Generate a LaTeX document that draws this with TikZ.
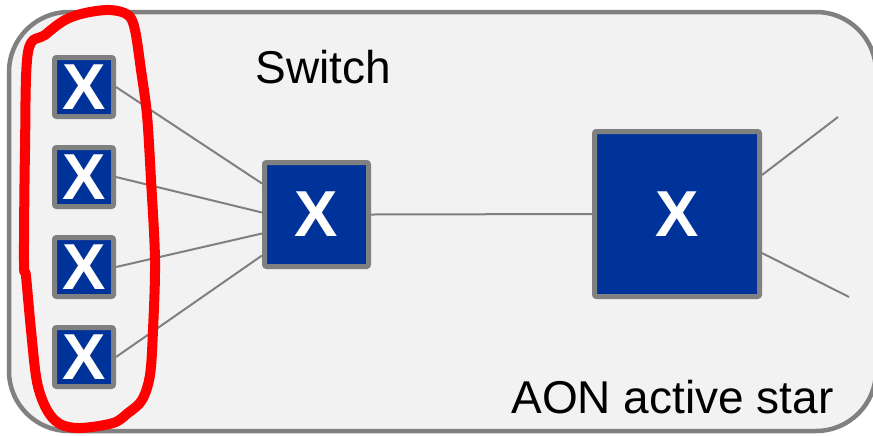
\documentclass[tikz,border=0pt]{standalone}
\usepackage{fontspec}
\setmainfont{Liberation Sans}
\definecolor{boxblue}{RGB}{0,51,153}
\definecolor{panel}{RGB}{242,242,242}
\definecolor{edgegray}{RGB}{128,128,128}
\definecolor{loopred}{RGB}{255,0,0}
\begin{document}
\begin{tikzpicture}[x=0.5pt,y=-0.5pt,
  swbox/.style={draw=edgegray,line width=2.5pt,fill=boxblue,text=white,
    font=\fontsize{32.5}{32.5}\selectfont\bfseries,inner sep=0pt,rounded corners=1pt},
  smallbox/.style={swbox,minimum size=29.5pt},
  midbox/.style={swbox,minimum size=52pt},
  bigbox/.style={swbox,minimum size=82.5pt},
  link/.style={draw=edgegray,line width=1pt},
  lbl/.style={font=\fontsize{23}{27}\selectfont,text=black,inner sep=0pt},
  redloop/.style={draw=loopred,line width=5pt,line join=round,line cap=round}]
\useasboundingbox (0,0) rectangle (873,435);
\clip (0,0) rectangle (873,435);
% container
\draw[draw=edgegray,fill=panel,line width=2.25pt,rounded corners=30pt] (9,12) rectangle (876,431);
% switches
\node[smallbox] (s1) at (84,87) {X};
\node[smallbox] (s2) at (84,177) {X};
\node[smallbox] (s3) at (84,267) {X};
\node[smallbox] (s4) at (84,357) {X};
\node[midbox] (m) at (316.5,214.5) {X};
\node[bigbox] (L) at (677,214) {X};
\coordinate (o1) at (838,117);
\coordinate (o2) at (849,297);
% links
\draw[link] (s1.east) -- ([yshift=15.5pt]m.west);
\draw[link] (s2.east) -- ([yshift=1pt]m.west);
\draw[link] (s3.east) -- ([yshift=-9.5pt]m.west);
\draw[link] (s4.east) -- ([yshift=-20.5pt]m.west);
\draw[link] (m.east) -- (L.west);
\draw[link] ([yshift=19.5pt]L.east) -- (o1);
\draw[link] ([yshift=-19.5pt]L.east) -- (o2);
% labels
\node[lbl,anchor=base west] (t1) at (255,83) {Switch};
\node[lbl,anchor=base west] (t2) at (511,413) {AON active star};
% red loop
\draw[redloop] plot[smooth cycle,tension=0.55] coordinates {
  (28,52) (25,150) (24,262) (26,276) (31,330) (37,382) (47,410) (60,424)
  (80,428) (113,423) (128,413) (142,400) (150,375) (153,330) (155,260)
  (151,180) (147,115) (141,70) (135,30) (128,15) (110,10) (85,13) (65,20)
  (45,35)};
\end{tikzpicture}
\end{document}
